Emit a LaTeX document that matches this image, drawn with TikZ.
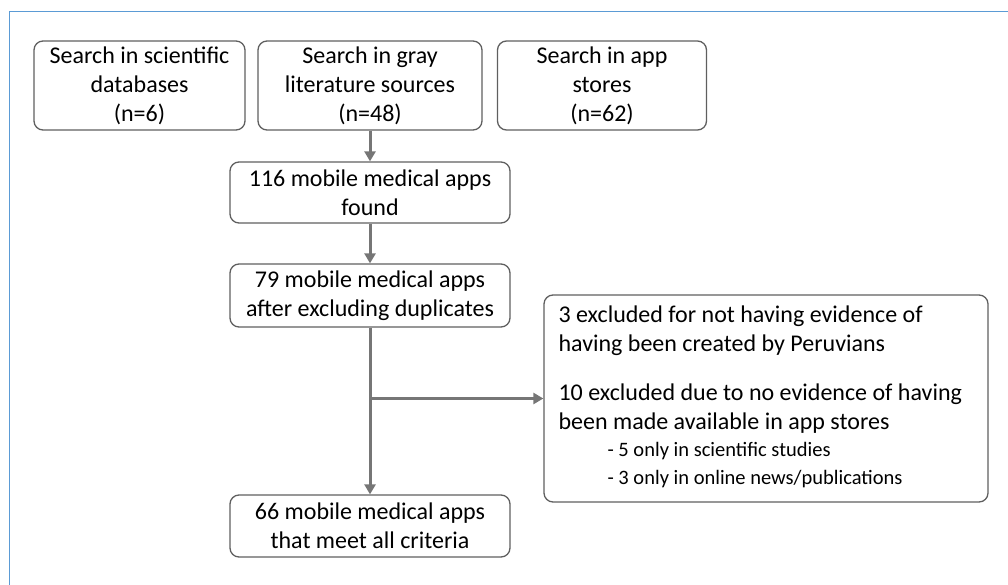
\documentclass[tikz,border=0pt]{standalone}
\usepackage{fontspec}
\setmainfont{Carlito}
\usetikzlibrary{arrows.meta}

\definecolor{framecol}{HTML}{5B9BD5}
\definecolor{boxline}{HTML}{5F5F5F}
\definecolor{arrowcol}{HTML}{767676}
\newcommand{\subsize}{\fontsize{20.5}{26.5}\selectfont}

\begin{document}
\begin{tikzpicture}[x=1pt,y=-1pt,
    box/.style={draw=boxline,line width=1.3pt,rounded corners=9pt,align=center,
      font=\fontsize{24}{29}\selectfont,inner sep=0pt},
    flow/.style={draw=arrowcol,line width=3pt,-{Triangle[length=10pt,width=11pt]}}]
    \useasboundingbox (0,0) rectangle (1008,585);
    \draw[draw=framecol,line width=1.6pt] (9.5,590) -- (9.5,11.5) -- (1010,11.5);
    \node (scidb) at (139.5,85.5) [box,minimum width=211pt,minimum height=89pt]{Search in scientific\\databases\\(n=6)};
    \node (gray) at (370,85.5) [box,minimum width=224pt,minimum height=89pt]{Search in gray\\literature sources\\(n=48)};
    \node (stores) at (602,85.5) [box,minimum width=209pt,minimum height=89pt]{Search in app\\stores\\(n=62)};
    \node (found) at (370,192.5) [box,minimum width=280pt,minimum height=61pt]{116 mobile medical apps\\found};
    \node (nodup) at (370,295.5) [box,minimum width=280pt,minimum height=63pt]{79 mobile medical apps\\after excluding duplicates};
    \node (final) at (370,526) [box,minimum width=280pt,minimum height=62pt]{66 mobile medical apps\\that meet all criteria};
    \node (excl) at (766,398.5) [box,minimum width=444pt,minimum height=207pt]{};
    % text of the exclusion box, set from its left edge
    \node (excltext) at ([xshift=15pt,yshift=2pt]excl.west) [anchor=west,align=left,inner sep=0pt,
      font=\fontsize{24}{29}\selectfont]{%
      3 excluded for not having evidence of\\
      having been created by Peruvians\\[20pt]
      10 excluded due to no evidence of having\\
      been made available in app stores\\[-2pt]
      {\subsize\hspace*{49pt}- 5 only in scientific studies}\\[-1pt]
      {\subsize\hspace*{49pt}- 3 only in online news/publications}};
    \coordinate (split) at (370,398.5);
    \draw[flow] (gray) -- (found);
    \draw[flow] (found) -- (nodup);
    \draw[flow] (nodup) -- (final);
    \draw[flow] (split) -- (excl.west);
\end{tikzpicture}
\end{document}
